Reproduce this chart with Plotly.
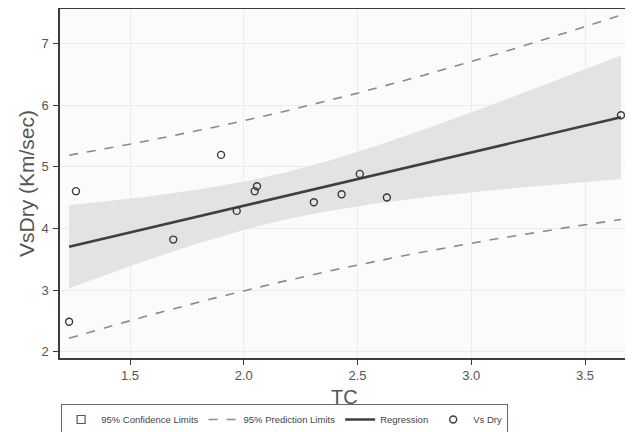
import numpy as np
import plotly.graph_objects as go

# Observed data (TC vs VsDry)
tc = [1.232, 1.262, 1.69, 1.90, 1.969, 2.048, 2.058, 2.308, 2.43, 2.51, 2.629, 3.658]
vs_dry = [2.487, 4.606, 3.82, 5.195, 4.286, 4.606, 4.687, 4.427, 4.557, 4.886, 4.503, 5.838]

x_ticks = [1.5, 2.0, 2.5, 3.0, 3.5]
x_tick_labels = ["1.5", "2.0", "2.5", "3.0", "3.5"]
y_ticks = [2, 3, 4, 5, 6, 7]

# OLS fit with 95% confidence and prediction limits
x = np.array(tc)
y = np.array(vs_dry)
n = len(x)
b1, b0 = np.polyfit(x, y, 1)
resid = y - (b0 + b1 * x)
s = np.sqrt(np.sum(resid ** 2) / (n - 2))
sxx = np.sum((x - x.mean()) ** 2)
t_crit = 2.228138851986274  # t(0.975, df=10)
xg = np.linspace(x.min(), x.max(), 200)
yg = b0 + b1 * xg
se_mean = s * np.sqrt(1 / n + (xg - x.mean()) ** 2 / sxx)
se_pred = s * np.sqrt(1 + 1 / n + (xg - x.mean()) ** 2 / sxx)
ci_lo, ci_hi = yg - t_crit * se_mean, yg + t_crit * se_mean
pi_lo, pi_hi = yg - t_crit * se_pred, yg + t_crit * se_pred

fig = go.Figure()
fig.add_trace(go.Scatter(
    x=np.concatenate([xg, xg[::-1]]), y=np.concatenate([ci_hi, ci_lo[::-1]]),
    fill="toself", fillcolor="#e2e3e5", line=dict(width=0, color="#e2e3e5"),
    mode="lines", name="95% Confidence Limits", hoverinfo="skip", showlegend=False))
# legend-only entry for the band (small open square as in the reference)
fig.add_trace(go.Scatter(
    x=[None], y=[None], mode="markers", name="95% Confidence Limits",
    marker=dict(symbol="square-open", size=8, color="#555555", line=dict(width=1.2))))
fig.add_trace(go.Scatter(
    x=xg, y=pi_hi, mode="lines", line=dict(color="#8a8a8a", width=1.6, dash="dash"),
    name="95% Prediction Limits", legendgroup="pi"))
fig.add_trace(go.Scatter(
    x=xg, y=pi_lo, mode="lines", line=dict(color="#8a8a8a", width=1.6, dash="dash"),
    name="95% Prediction Limits", legendgroup="pi", showlegend=False))
fig.add_trace(go.Scatter(
    x=xg, y=yg, mode="lines", line=dict(color="#3f3f3f", width=2.6), name="Regression"))
fig.add_trace(go.Scatter(
    x=tc, y=vs_dry, mode="markers", name="Vs Dry", cliponaxis=False,
    marker=dict(symbol="circle-open", size=7, color="#3a3a3a", line=dict(width=1.4))))

axis_common = dict(
    showgrid=True, gridcolor="#ececec", gridwidth=1, zeroline=False,
    showline=True, linecolor="#3c3c3c", linewidth=1.5, mirror=True,
    ticks="outside", ticklen=5, tickcolor="#3c3c3c", automargin=False,
    tickfont=dict(family="Liberation Sans, Arial", size=13, color="#555555"))

fig.update_layout(
    width=625, height=427,
    margin=dict(l=52, r=5, t=1, b=77),
    paper_bgcolor="white", plot_bgcolor="#fbfbfb",
    showlegend=True,
    legend=dict(orientation="h", xref="container", yref="container",
                x=0.085, xanchor="left", y=0.0, yanchor="bottom",
                bordercolor="#666666", borderwidth=1, bgcolor="white",
                font=dict(family="Liberation Sans Narrow, Liberation Sans, Arial", size=9.5, color="#444444"),
                itemwidth=30, tracegroupgap=0),
    xaxis=dict(range=[1.192, 3.689], tickvals=x_ticks, ticktext=x_tick_labels,
               **axis_common),
    yaxis=dict(range=[1.898, 7.563], tickvals=y_ticks, ticklabelstandoff=2,
               title=dict(text="VsDry (Km/sec)", font=dict(family="Liberation Sans, Arial", size=21, color="#555555"),
                          standoff=1),
               **axis_common),
    annotations=[dict(text="TC", xref="paper", yref="paper", x=0.5, y=-0.112,
                      xanchor="center", yanchor="middle", showarrow=False,
                      font=dict(family="Liberation Sans, Arial", size=20, color="#555555"))],
)

fig.write_html("out.html")
